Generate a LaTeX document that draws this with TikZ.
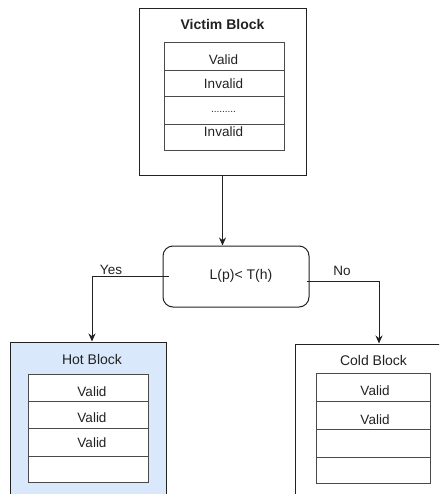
\documentclass[tikz,border=0pt]{standalone}
\usepackage{fontspec}
\setmainfont{Liberation Sans}
\usetikzlibrary{arrows.meta}
\definecolor{hotfill}{HTML}{DAE8FC}
\definecolor{ink}{HTML}{222222}
\definecolor{rowline}{HTML}{4A4A4A}
\begin{document}
\begin{tikzpicture}[x=1pt,y=-1pt,
  blockbox/.style={draw=ink,line width=1pt,rectangle,inner sep=0pt},
  rowbox/.style={draw=rowline,line width=1pt,fill=white,rectangle,inner sep=0pt},
  txt/.style={font=\fontsize{13.5}{15}\selectfont,text=ink,inner sep=0pt},
  ttl/.style={font=\fontsize{14}{16}\selectfont,text=ink,inner sep=0pt},
  conn/.style={draw=ink,line width=1pt},
  arr/.style={conn,-{Stealth[length=8pt,width=7pt]}}]
\useasboundingbox (0,0) rectangle (439,494);
\clip (0,0) rectangle (439,494);
\fill[white] (0,0) rectangle (439,494);

% Victim block
\node[blockbox,fill=white,minimum width=167pt,minimum height=167pt] (victim) at (222.5,92.5) {};
\node[ttl,font=\fontsize{14}{16}\selectfont\bfseries] (victimtitle) at (222.5,24.5) {Victim Block};
\node[rowbox,minimum width=120pt,minimum height=28pt] (v1) at (224,57) {};
\node[rowbox,minimum width=120pt,minimum height=26pt] (v2) at (224,84) {};
\node[rowbox,minimum width=120pt,minimum height=28pt] (v3) at (224,111) {};
\node[rowbox,minimum width=120pt,minimum height=26pt] (v4) at (224,138) {};
\node[txt] (v1t) at (223.5,59.5) {Valid};
\node[txt] (v2t) at (223.5,84) {Invalid};
\node[txt,font=\fontsize{10}{12}\selectfont] (v3t) at (223.5,111.5) {.........};
\node[txt] (v4t) at (223.5,132) {Invalid};

% Decision
\node[draw=ink,line width=1pt,rounded corners=10pt,minimum width=146pt,minimum height=61pt,inner sep=0pt] (dec) at (236,276.5) {};
\node[ttl] (dect) at (241,276) {L(p)< T(h)};

% Hot block
\node[blockbox,fill=hotfill,minimum width=156pt,minimum height=168pt] (hot) at (88,426) {};
\node[ttl] (hottitle) at (92,359) {Hot Block};
\node[rowbox,minimum width=120pt,minimum height=27pt] (h1) at (88,387.5) {};
\node[rowbox,minimum width=120pt,minimum height=27pt] (h2) at (88,414.5) {};
\node[rowbox,minimum width=120pt,minimum height=28pt] (h3) at (88,442) {};
\node[rowbox,minimum width=120pt,minimum height=26pt] (h4) at (88,469) {};
\node[txt] (h1t) at (92,391.5) {Valid};
\node[txt] (h2t) at (92,418) {Valid};
\node[txt] (h3t) at (92,443) {Valid};

% Cold block
\node[blockbox,fill=white,minimum width=156pt,minimum height=168pt] (cold) at (373,428) {};
\node[ttl] (coldtitle) at (373.5,360) {Cold Block};
\node[rowbox,minimum width=114pt,minimum height=28pt] (c1) at (373,387) {};
\node[rowbox,minimum width=114pt,minimum height=28pt] (c2) at (373,415) {};
\node[rowbox,minimum width=114pt,minimum height=28pt] (c3) at (373,443) {};
\node[rowbox,minimum width=114pt,minimum height=26pt] (c4) at (373,470) {};
\node[txt] (c1t) at (375,390.5) {Valid};
\node[txt] (c2t) at (375,420) {Valid};

% Connectors
\draw[arr] (victim.south) -- (victim.south |- dec.north);
\draw[arr] ([xshift=6pt]dec.west) -| ([xshift=4pt]hot.north);
\draw[arr] ([xshift=-3pt,yshift=-4.5pt]dec.east) -| ([xshift=6pt]cold.north);
\node[txt] (yes) at (111,270) {Yes};
\node[txt] (no) at (342,270.5) {No};
\end{tikzpicture}
\end{document}
